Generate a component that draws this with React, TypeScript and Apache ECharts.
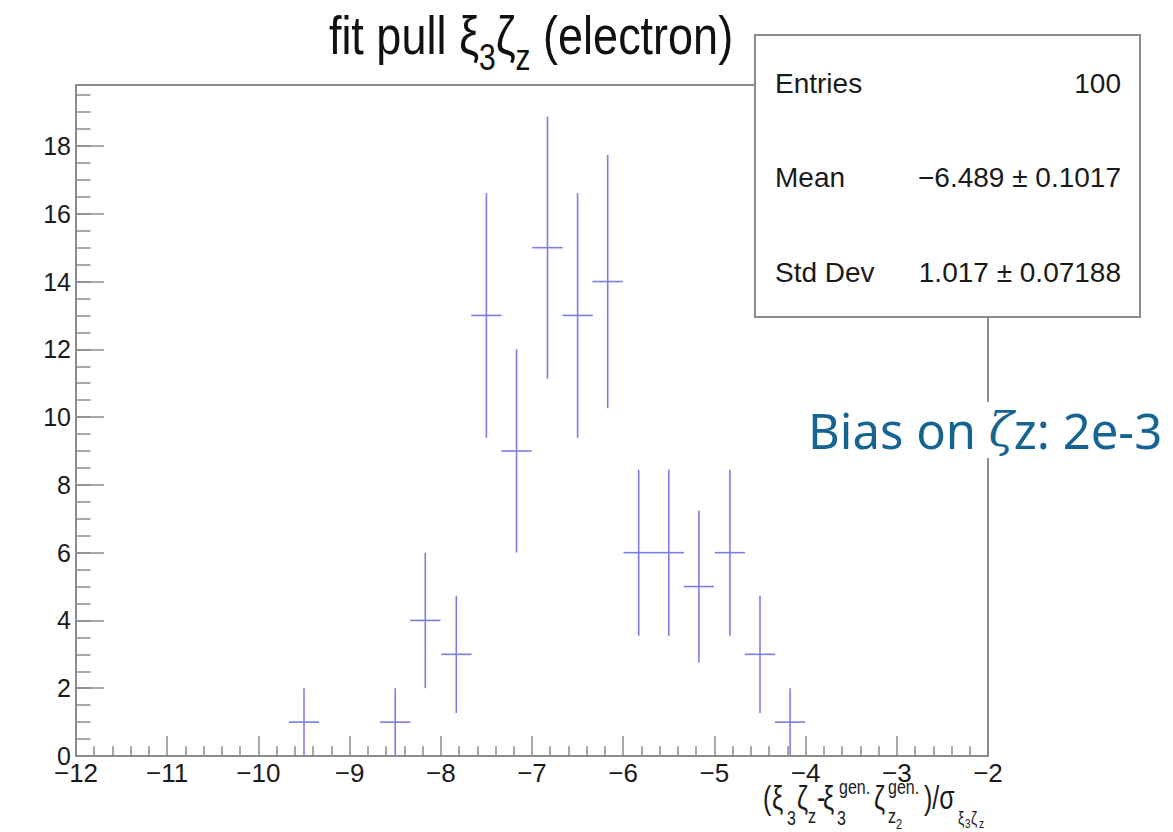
import React, { useEffect, useRef } from 'react';
import * as echarts from 'echarts';

// ---- data ----
const binCenters = [-9.5, -8.5, -8.17, -7.83, -7.5, -7.17, -6.83, -6.5, -6.17, -5.83, -5.5, -5.17, -4.83, -4.5, -4.17];
const counts = [1, 1, 4, 3, 13, 9, 15, 13, 14, 6, 6, 5, 6, 3, 1];
const errors = [1, 1, 2, 1.73, 3.61, 3, 3.87, 3.61, 3.74, 2.45, 2.45, 2.24, 2.45, 1.73, 1];
const binWidth = 0.3333;
const xMin = -12;
const xMax = -2;
const yMin = 0;
const yMax = 19.8;
const statsLabels = ['Entries', 'Mean', 'Std Dev'];
const statsValues = ['100', '\u22126.489 \u00b1 0.1017', '1.017 \u00b1 0.07188'];
const titleText = 'fit pull \u03be{s|3}\u03b6{s|z} (electron)';
const biasText = 'Bias on {z|\u03b6}z: 2e-3';

const AXIS = '#8c8c8c';
const TXT = '#1a1a1a';
const ERR = '#7d7de6';
const FONT = 'Liberation Sans, Arial, sans-serif';

const minus = (v: number) => (v < 0 ? '\u2212' + String(-v) : String(v));

export default function App() {
  const ref = useRef<HTMLDivElement>(null);
  useEffect(() => {
    if (!ref.current) return;
    const chart = echarts.init(ref.current, undefined, { renderer: 'svg' });
    const data = binCenters.map((x, i) => [x, counts[i], errors[i]]);

    const sy = 1.3;
    const t = (text: string, x: number, y: number, size: number, extra: any = {}) => ({
      type: 'text',
      x,
      y,
      scaleY: sy,
      z: 100,
      style: { text, fontFamily: FONT, fontSize: size, fill: TXT, align: 'left', verticalAlign: 'middle', ...extra },
    });

    const xTitle = [
      t('(', 763, 798, 25),
      t('\u03be', 772, 798, 25),
      t('3', 787, 818, 16),
      t('\u03b6', 797, 798, 25),
      t('z', 808, 816, 16),
      t('-', 817, 798, 25),
      t('\u03be', 823, 798, 25),
      t('gen.', 839, 787, 16),
      t('3', 837, 818, 16),
      t('\u03b6', 874, 798, 25),
      t('gen.', 888, 787, 16),
      t('z', 888, 816, 16),
      t('2', 896, 824, 11),
      t(')/\u03c3', 924, 798, 25),
      t('\u03be', 958, 817, 14),
      t('3', 965, 824, 10),
      t('\u03b6', 971, 817, 14),
      t('z', 979, 824, 10),
    ];

    const statsTexts: any[] = [];
    statsLabels.forEach((lab, i) => {
      const y = 83 + i * 94.5;
      statsTexts.push({
        type: 'text', x: 775, y, z: 101,
        style: { text: lab, fontFamily: FONT, fontSize: 28, fill: TXT, align: 'left', verticalAlign: 'middle' },
      });
      statsTexts.push({
        type: 'text', x: 1121, y, z: 101,
        style: { text: statsValues[i], fontFamily: FONT, fontSize: 28, fill: TXT, align: 'right', verticalAlign: 'middle' },
      });
    });

    chart.setOption({
      animation: false,
      backgroundColor: '#ffffff',
      grid: {
        left: 76, right: 185, top: 85, bottom: 76,
        show: true, borderColor: AXIS, borderWidth: 2, backgroundColor: 'transparent',
      },
      xAxis: {
        type: 'value', min: xMin, max: xMax, interval: 1,
        axisLine: { show: true, onZero: false, lineStyle: { color: AXIS, width: 2 } },
        axisTick: { show: true, inside: true, length: 20, lineStyle: { color: AXIS, width: 1.5 } },
        minorTick: { show: true, splitNumber: 5, length: 10, lineStyle: { color: AXIS, width: 1.5 } },
        splitLine: { show: false },
        axisLabel: { fontFamily: FONT, fontSize: 26, color: TXT, margin: 4, formatter: minus },
      },
      yAxis: [
        {
          type: 'value', min: yMin, max: yMax, interval: 2, position: 'left',
          axisLine: { show: true, onZero: false, lineStyle: { color: AXIS, width: 2 } },
          axisTick: { show: true, inside: true, length: 28, lineStyle: { color: AXIS, width: 1.5 } },
          splitLine: { show: false },
          axisLabel: { fontFamily: FONT, fontSize: 25, color: TXT, margin: 5, showMaxLabel: false, formatter: minus },
        },
        {
          type: 'value', min: yMin, max: yMax, interval: 0.5, position: 'left',
          axisLine: { show: false },
          axisTick: { show: true, inside: true, length: 14.5, lineStyle: { color: AXIS, width: 1.5 } },
          splitLine: { show: false },
          axisLabel: { show: false },
        },
      ],
      series: [
        {
          type: 'custom',
          xAxisIndex: 0,
          yAxisIndex: 0,
          data,
          encode: { x: 0, y: 1 },
          renderItem: (params: any, api: any) => {
            const x = api.value(0);
            const y = api.value(1);
            const e = api.value(2);
            const pl = api.coord([x - binWidth / 2, y]);
            const pr = api.coord([x + binWidth / 2, y]);
            const pt = api.coord([x, y + e]);
            const pb = api.coord([x, Math.max(0, y - e)]);
            const style = { stroke: ERR, lineWidth: 1.6 };
            return {
              type: 'group',
              children: [
                { type: 'line', shape: { x1: pl[0], y1: pl[1], x2: pr[0], y2: pr[1] }, style },
                { type: 'line', shape: { x1: pt[0], y1: pt[1], x2: pb[0], y2: pb[1] }, style },
              ],
            };
          },
        },
      ],
      graphic: [
        {
          type: 'text', x: 531, y: 36, scaleY: 1.2, z: 100,
          style: {
            text: titleText, fontFamily: FONT, fontSize: 45, fill: '#111', align: 'center', verticalAlign: 'middle',
            rich: { s: { fontFamily: FONT, fontSize: 30, fill: '#111', padding: [36, 0, 0, 0] } },
          },
        },
        {
          type: 'rect', z: 99,
          shape: { x: 755, y: 35, width: 385, height: 282 },
          style: { fill: '#ffffff', stroke: AXIS, lineWidth: 2 },
        },
        ...statsTexts,
        {
          type: 'rect', z: 99,
          shape: { x: 804, y: 402, width: 369, height: 56 },
          style: { fill: '#ffffff' },
        },
        {
          type: 'text', x: 808, y: 430, z: 101,
          style: {
            text: biasText, fontFamily: 'Noto Sans', fontSize: 49, fill: '#166491', align: 'left', verticalAlign: 'middle',
            rich: { z: { fontFamily: 'DejaVu Serif', fontStyle: 'italic', fontSize: 46, fill: '#166491' } },
          },
        },
        ...xTitle,
      ],
    });
    return () => chart.dispose();
  }, []);
  return <div ref={ref} style={{ position: 'absolute', left: 0, top: 0, width: 1173, height: 832 }} />;
}
